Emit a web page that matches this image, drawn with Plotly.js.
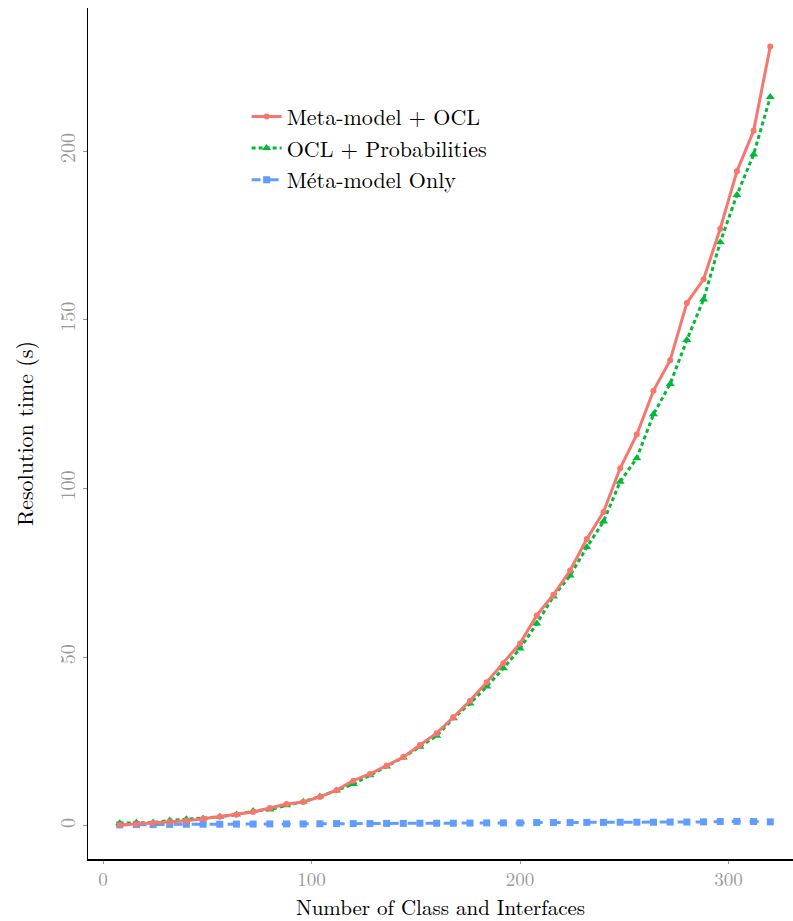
<!DOCTYPE html>
<html>
<head>
<meta charset="utf-8">
<script src="https://cdn.plot.ly/plotly-3.0.1.min.js"></script>
<style>body{margin:0;padding:0;background:#fff}#chart{width:793px;height:921px}</style>
</head>
<body>
<div id="chart"></div>
<script>
const xValues = [8,16,24,32,40,48,56,64,72,80,88,96,104,112,120,128,136,144,152,160,168,176,184,192,200,208,216,224,232,240,248,256,264,272,280,288,296,304,312,320];
const metaOcl = [0.3,0.6,0.9,1.2,1.5,2.1,2.7,3.3,4.1,5.3,6.5,7.1,8.6,10.6,13.4,15.4,17.8,20.4,24.0,27.5,32.2,37.1,42.6,48.2,54.1,62.4,68.5,75.7,85.0,93.0,106,116,129,138,155,162,177,194,206,231];
const oclProb = [0.8,1.0,1.0,1.6,2.0,2.2,2.7,3.4,4.4,4.9,6.1,7.2,8.7,10.5,12.4,15.0,17.6,20.3,23.5,26.7,31.9,36.3,41.3,46.7,52.6,60.0,68.0,74.2,82.6,90.2,102,109,122,131,144,156,173,187,199,216];
const metaOnly = [0.3,0.4,0.4,0.45,0.5,0.5,0.5,0.55,0.55,0.6,0.6,0.6,0.65,0.7,0.7,0.7,0.75,0.75,0.8,0.8,0.8,0.85,0.9,0.9,0.9,1.0,1.0,1.0,1.05,1.05,1.1,1.1,1.1,1.15,1.15,1.2,1.3,1.35,1.3,1.2];
const seriesNames = ["Meta-model + OCL","OCL + Probabilities","Méta-model Only"];
const xTicks = [0,100,200,300];
const yTicks = [0,50,100,150,200];

const serif = "'Latin Modern Roman','CMU Serif','DejaVu Serif','Liberation Serif',serif";
const traces = [
  {x:xValues,y:metaOnly,name:seriesNames[2],mode:'lines+markers',
   line:{color:'#619CFF',width:3,dash:'dash'},marker:{symbol:'square',size:7,color:'#619CFF'},legendrank:3},
  {x:xValues,y:oclProb,name:seriesNames[1],mode:'lines+markers',
   line:{color:'#00BA38',width:3,dash:'4px,3px'},marker:{symbol:'triangle-up',size:8,color:'#00BA38'},legendrank:2},
  {x:xValues,y:metaOcl,name:seriesNames[0],mode:'lines+markers',
   line:{color:'#F8766D',width:3},marker:{symbol:'circle',size:6,color:'#F8766D'},legendrank:1}
];
const layout = {
  width:793,height:921,
  margin:{l:88,r:0,t:8,b:62},
  paper_bgcolor:'#fff',plot_bgcolor:'#fff',
  font:{family:serif,color:'#000',size:18},
  showlegend:true,
  legend:{x:0.225,y:0.897,xanchor:'left',yanchor:'top',bgcolor:'rgba(0,0,0,0)',
          font:{family:serif,size:22,color:'#000'},tracegroupgap:0,traceorder:'normal'},
  xaxis:{range:[-7.2,330.9],tickvals:xTicks,ticktext:xTicks.map(String),
         showgrid:false,zeroline:false,showline:true,linecolor:'#000',linewidth:1.5,
         ticks:'outside',ticklen:3,tickcolor:'#999',tickwidth:1,
         tickfont:{family:serif,size:19,color:'#999'},
         title:{text:'Number of Class and Interfaces',font:{family:serif,size:21,color:'#000'},standoff:0}},
  yaxis:{range:[-9.8,242.4],tickvals:yTicks,ticktext:yTicks.map(String),tickangle:-90,
         showgrid:false,zeroline:false,showline:true,linecolor:'#000',linewidth:1.5,
         ticks:'outside',ticklen:4,tickcolor:'#999',tickwidth:1,
         tickfont:{family:serif,size:20,color:'#999'},
         title:{text:'Resolution time (s)',font:{family:serif,size:22,color:'#000'},standoff:12}}
};
Plotly.newPlot('chart',traces,layout,{displayModeBar:false,staticPlot:true});
</script>
</body>
</html>
